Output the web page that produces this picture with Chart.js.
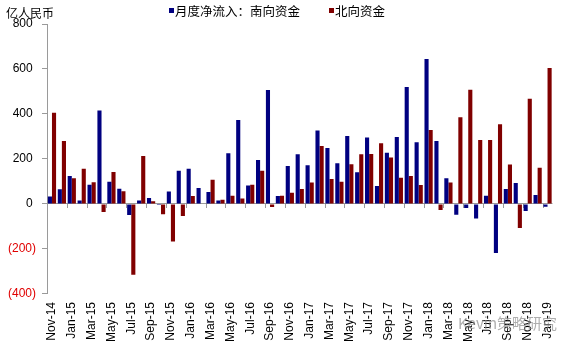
<!DOCTYPE html>
<html lang="zh">
  <head>
    <meta charset="UTF-8" />
    <script src="https://cdn.jsdelivr.net/npm/chart.js@4.4.0/dist/chart.umd.min.js"></script>
    <title>月度净流入</title>
    <style>
      body {
        margin: 0;
        padding: 0;
        background: #fff;
      }

      .container {
        position: relative;
        width: 570px;
        height: 350px;
      }
    </style>
  </head>
  <body>
    <div class="container">
      <canvas id="flowChart"></canvas>
    </div>
    <script>
      const months = [
        'Nov-14', 'Dec-14',
        'Jan-15', 'Feb-15', 'Mar-15', 'Apr-15', 'May-15', 'Jun-15',
        'Jul-15', 'Aug-15', 'Sep-15', 'Oct-15', 'Nov-15', 'Dec-15',
        'Jan-16', 'Feb-16', 'Mar-16', 'Apr-16', 'May-16', 'Jun-16',
        'Jul-16', 'Aug-16', 'Sep-16', 'Oct-16', 'Nov-16', 'Dec-16',
        'Jan-17', 'Feb-17', 'Mar-17', 'Apr-17', 'May-17', 'Jun-17',
        'Jul-17', 'Aug-17', 'Sep-17', 'Oct-17', 'Nov-17', 'Dec-17',
        'Jan-18', 'Feb-18', 'Mar-18', 'Apr-18', 'May-18', 'Jun-18',
        'Jul-18', 'Aug-18', 'Sep-18', 'Oct-18', 'Nov-18', 'Dec-18',
        'Jan-19',
      ]

      // 南向资金 (亿人民币)
      const southbound = [
        33, 66,
        124, 16, 86, 416, 99, 68, -49, 16, 27, -5, 56, 148,
        157, 71, 53, 15, 225, 373, 82, 196, 507, 36, 169, 221,
        172, 327, 249, 181, 302, 141, 295, 80, 228, 298, 520, 274,
        644, 280, 114, -48, -18, -65, 37, -218, 67, 93, -31, 40,
        -12,
      ]

      // 北向资金 (亿人民币)
      const northbound = [
        406, 280,
        114, 157, 97, -36, 142, 57, -314, 213, 12, -46, -167, -53,
        36, 0, 108, 19, 37, 24, 86, 148, -13, 37, 50, 67,
        95, 258, 111, 99, 177, 221, 222, 270, 207, 117, 124, 84,
        329, -27, 96, 385, 508, 284, 284, 354, 175, -107, 468, 161,
        604,
      ]

      const seriesNames = ['月度净流入：南向资金', '北向资金']
      const unitLabel = '亿人民币'
      const watermark = 'Kevin策略研究'

      const axisGray = '#9a9a9a'
      const cjkFont = '"Noto Sans CJK SC", sans-serif'

      // unit text, legend, zero-line ticks and watermark
      const decorations = {
        id: 'decorations',
        beforeDatasetsDraw(chart) {
          const { ctx, scales } = chart
          const x = scales.x
          const y0 = scales.y.getPixelForValue(0)
          const step = x.getPixelForValue(1) - x.getPixelForValue(0)
          ctx.save()
          ctx.strokeStyle = axisGray
          ctx.lineWidth = 1
          ctx.beginPath()
          for (let i = 2; i < months.length; i += 2) {
            const px = Math.round(x.getPixelForValue(i) - step / 2) + 0.5
            ctx.moveTo(px, y0)
            ctx.lineTo(px, y0 + 4)
          }
          ctx.stroke()
          ctx.restore()
        },
        afterDraw(chart) {
          const { ctx } = chart
          ctx.save()
          ctx.font = '12px ' + cjkFont
          ctx.textBaseline = 'middle'
          ctx.fillStyle = '#000'
          ctx.fillText(unitLabel, 6, 13)

          const items = [
            { x: 169, ds: chart.data.datasets[0] },
            { x: 329, ds: chart.data.datasets[1] },
          ]
          ctx.font = '12.5px ' + cjkFont
          items.forEach((it) => {
            ctx.fillStyle = it.ds.backgroundColor
            ctx.fillRect(it.x, 8, 5, 5)
            ctx.fillStyle = '#000'
            ctx.fillText(it.ds.label, it.x + 6, 11)
          })

          ctx.font = '15px ' + cjkFont
          ctx.fillStyle = 'rgba(140, 140, 140, 0.7)'
          ctx.fillText(watermark, 458, 323)
          ctx.restore()
        },
      }

      const ctx = document.getElementById('flowChart').getContext('2d')
      const chart = new Chart(ctx, {
        type: 'bar',
        data: {
          labels: months,
          datasets: [
            {
              label: seriesNames[0],
              data: southbound,
              backgroundColor: '#000080',
              categoryPercentage: 0.83,
              barPercentage: 1.0,
            },
            {
              label: seriesNames[1],
              data: northbound,
              backgroundColor: '#800000',
              categoryPercentage: 0.83,
              barPercentage: 1.0,
            },
          ],
        },
        options: {
          responsive: true,
          maintainAspectRatio: false,
          animation: false,
          layout: {
            padding: { top: 24, left: 2, right: 7, bottom: 0 },
          },
          plugins: {
            legend: { display: false },
            title: { display: false },
            tooltip: { enabled: false },
          },
          scales: {
            x: {
              grid: { display: false, drawTicks: false },
              border: { display: false },
              ticks: {
                autoSkip: false,
                minRotation: 90,
                maxRotation: 90,
                padding: 8,
                color: '#000',
                font: { family: '"Liberation Sans", Arial, sans-serif', size: 12 },
                callback: (value, index) => (index % 2 === 0 ? months[index] : ''),
              },
            },
            y: {
              min: -400,
              max: 800,
              ticks: {
                stepSize: 200,
                padding: 6,
                font: { family: '"Liberation Sans", Arial, sans-serif', size: 12 },
                color: (c) => (c.tick && c.tick.value < 0 ? '#e00000' : '#000'),
                callback: (v) => (v < 0 ? '(' + -v + ')' : v + ' '),
              },
              grid: {
                color: (c) => (c.tick && c.tick.value === 0 ? axisGray : 'rgba(0,0,0,0)'),
                tickColor: axisGray,
                tickLength: 5,
              },
              border: { color: axisGray },
            },
          },
        },
        plugins: [decorations],
      })
    </script>
  </body>
</html>
